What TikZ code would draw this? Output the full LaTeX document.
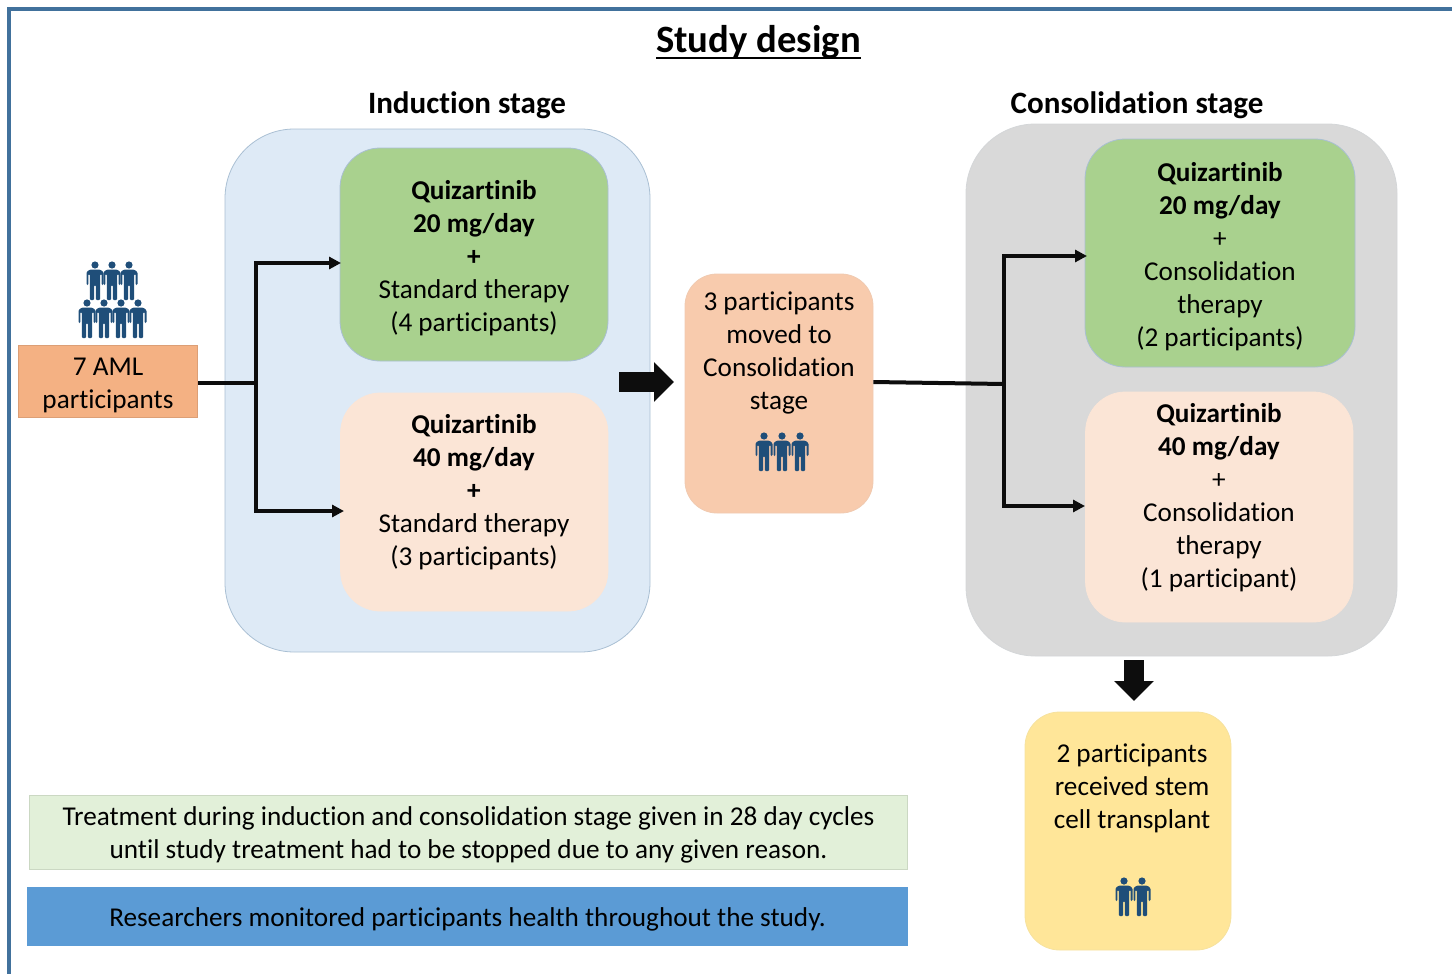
\documentclass[tikz,border=0pt]{standalone}
\usepackage{fontspec}
\setmainfont[Ligatures=NoCommon]{Carlito}
\usetikzlibrary{arrows.meta}

\definecolor{frameblue}{HTML}{41719C}
\definecolor{personblue}{HTML}{1F4E79}
\definecolor{inductfill}{HTML}{DEEAF6}
\definecolor{consolfill}{HTML}{D9D9D9}
\definecolor{greenfill}{HTML}{A9D18E}
\definecolor{peachfill}{HTML}{FBE5D6}
\definecolor{midfill}{HTML}{F8CBAD}
\definecolor{amlfill}{HTML}{F4B183}
\definecolor{yellowfill}{HTML}{FFE699}
\definecolor{notegreen}{HTML}{E2F0D9}
\definecolor{noteblue}{HTML}{5B9BD5}
\definecolor{edgeblue}{HTML}{A9BFD3}

\tikzset{
  box/.style={draw=edgeblue, line width=0.6pt, inner sep=0pt},
  boxtext/.style={align=center, inner sep=0pt, font=\fontsize{20.4}{24.75}\selectfont},
  heading/.style={font=\fontsize{23.3}{26}\selectfont\bfseries},
  line/.style={line width=3pt, draw=black!95},
  flow/.style={line/.try, line width=3pt, -{Triangle[length=9pt,width=9pt]}},
  bigarrow/.style={draw=black!95, line width=15pt, -{Triangle[length=15pt,width=29pt]}},
  person/.pic={
    \fill[personblue] (0,0) circle (3.6);
    \fill[personblue, rounded corners=0.8pt] (-5,4.5) -- (5,4.5) -- (8.5,7) -- (8.5,20)
      -- (6.6,20) -- (6.6,9) -- (5.2,9) -- (5.2,35) -- (0.8,35) -- (0.8,20) -- (-0.8,20)
      -- (-0.8,35) -- (-5.2,35) -- (-5.2,9) -- (-6.6,9) -- (-6.6,20) -- (-8.5,20)
      -- (-8.5,7) -- cycle;
  }
}

\begin{document}
\begin{tikzpicture}[x=0.75pt, y=-0.75pt]
  \useasboundingbox (0,0) rectangle (1452,974);

  % frame
  \draw[frameblue, line width=3pt] (1452,9) -- (8.5,9) -- (8.5,974);

  % headings
  \node[anchor=base, inner xsep=0pt] (title) at (758.5,53) {\fontsize{29}{32}\selectfont\bfseries Study design};
  \draw[line width=1.5pt] ([yshift=-3.75pt]title.base west) -- ([yshift=-3.75pt]title.base east);
  \node[heading] (inducthead) at (467,105) {Induction stage};
  \node[heading] (consolhead) at (1137,105) {Consolidation stage};

  % stage panels
  \node[box, fill=inductfill, rounded corners=52pt, minimum width=318.75pt, minimum height=392.25pt]
    (induct) at (437.5,390.5) {};
  \node[box, fill=consolfill, draw=consolfill!90!edgeblue, rounded corners=52pt, minimum width=323.25pt, minimum height=399pt]
    (consol) at (1181.5,390) {};

  % participants on the left
  \node[box, fill=amlfill, draw=amlfill!90!black, minimum width=134.5pt, minimum height=54pt]
    (aml) at (108,381) {};
  \node[boxtext] (amltext) at (108,385) {7 AML\\participants};
  \foreach \px in {95,112,129} \pic at (\px,265) {person};
  \foreach \px in {87,104,121,138} \pic at (\px,303) {person};

  % induction arms
  \node[box, fill=greenfill, rounded corners=30pt, minimum width=201pt, minimum height=159.75pt]
    (ind20) at (474,254.5) {};
  \node[boxtext] (ind20text) at (474,258) {\textbf{Quizartinib}\\\textbf{20 mg/day}\\\textbf{+}\\Standard therapy\\(4 participants)};
  \node[box, fill=peachfill, draw=peachfill, rounded corners=30pt, minimum width=200.5pt, minimum height=163.5pt]
    (ind40) at (474.25,502) {};
  \node[boxtext] (ind40text) at (474,492.5) {\textbf{Quizartinib}\\\textbf{40 mg/day}\\\textbf{+}\\Standard therapy\\(3 participants)};

  % middle box
  \node[box, fill=midfill, draw=midfill!90!edgeblue, rounded corners=24pt, minimum width=141pt, minimum height=179.25pt]
    (moved) at (779,393.5) {};
  \node[boxtext] (movedtext) at (779,353) {3 participants\\moved to\\Consolidation\\stage};
  \foreach \px in {764,782,800} \pic at (\px,436) {person};

  % consolidation arms
  \node[box, fill=greenfill, rounded corners=30pt, minimum width=202.5pt, minimum height=171pt]
    (con20) at (1220,253) {};
  \node[boxtext] (con20text) at (1220,256.5) {\textbf{Quizartinib}\\\textbf{20 mg/day}\\+\\Consolidation\\therapy\\(2 participants)};
  \node[box, fill=peachfill, draw=peachfill, rounded corners=30pt, minimum width=200.5pt, minimum height=172.5pt]
    (con40) at (1219.25,507) {};
  \node[boxtext] (con40text) at (1219,497.5) {\textbf{Quizartinib}\\\textbf{40 mg/day}\\+\\Consolidation\\therapy\\(1 participant)};

  % transplant box
  \node[box, fill=yellowfill, draw=yellowfill!90!edgeblue, rounded corners=26pt, minimum width=154.5pt, minimum height=178.5pt]
    (stem) at (1128,831) {};
  \node[boxtext] (stemtext) at (1132,788.5) {2 participants\\received stem\\cell transplant};
  \foreach \px in {1124,1142} \pic at (\px,881) {person};

  % notes
  \node[box, fill=notegreen, draw=notegreen!90!black, minimum width=658.5pt, minimum height=55.5pt]
    (cycles) at (468.5,832) {};
  \node[boxtext] (cyclestext) at (468.5,835) {Treatment during induction and consolidation stage given in 28 day cycles\\until study treatment had to be stopped due to any given reason.};
  \node[box, fill=noteblue, draw=noteblue, minimum width=660pt, minimum height=43.5pt]
    (monitor) at (467.5,916.5) {};
  \node[boxtext] (monitortext) at (467.5,919.5) {Researchers monitored participants health throughout the study.};

  % connectors
  \coordinate (splitl) at (256,383);
  \coordinate (splitltop) at (256,263);
  \coordinate (splitlbot) at (256,511);
  \coordinate (splitr) at (1004,384);
  \coordinate (splitrtop) at (1004,256);
  \coordinate (splitrbot) at (1004,506);
  \coordinate (ind20in) at (341,263);
  \coordinate (ind40in) at (344,511);
  \coordinate (con20in) at (1087,256);
  \coordinate (con40in) at (1085,506);
  \coordinate (bigrightfrom) at (619,382);
  \coordinate (bigrightto) at (674,382);
  \coordinate (bigdownfrom) at (1134,660);
  \coordinate (bigdownto) at (1134,701);

  \draw[line] (aml.east |- splitl) -- (splitl);
  \draw[line] ([yshift=1.5pt]splitltop) -- ([yshift=-1.5pt]splitlbot);
  \draw[flow] (splitltop) -- (ind20in);
  \draw[flow] (splitlbot) -- (ind40in);
  \draw[line] (moved.east |- 0,382) -- (splitr);
  \draw[line] ([yshift=1.5pt]splitrtop) -- ([yshift=-1.5pt]splitrbot);
  \draw[flow] (splitrtop) -- (con20in);
  \draw[flow] (splitrbot) -- (con40in);
  \draw[bigarrow] (bigrightfrom) -- (bigrightto);
  \draw[bigarrow] (bigdownfrom) -- (bigdownto);
\end{tikzpicture}
\end{document}
